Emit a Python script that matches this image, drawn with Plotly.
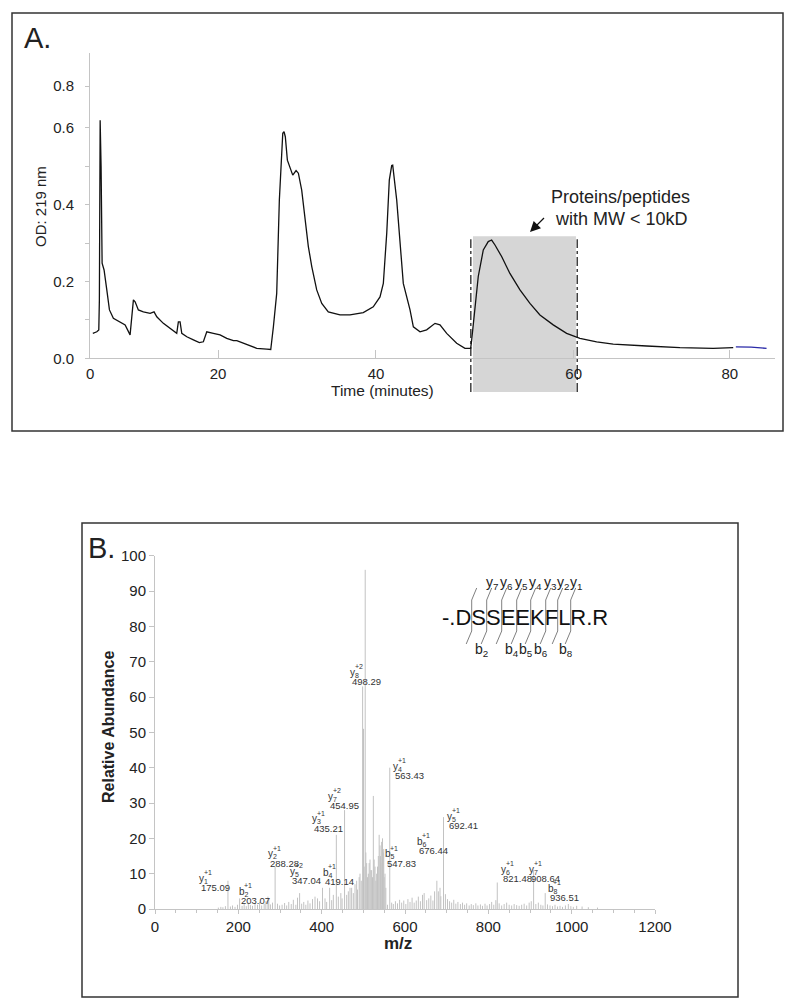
import plotly.graph_objects as go

W, H = 795, 1007
FONT = "Liberation Sans, Arial, sans-serif"

# ---------------- Panel A data: chromatogram ----------------
chrom_time = [5.32, 5.79, 6.02, 6.09, 6.18, 6.29, 6.41, 6.64, 6.96, 7.27, 7.73, 8.52, 9.11, 9.69, 9.89,
              10.08, 10.28, 10.66, 11.25, 12.04, 12.50, 12.82, 13.59, 14.38, 15.16, 15.35, 15.55, 15.75,
              16.34, 17.11, 17.81, 18.28, 18.68, 19.45, 20.24, 21.02, 21.80, 22.20, 23.37, 24.54, 25.71,
              26.18, 26.49, 26.88, 27.19, 27.39, 27.59, 27.74, 27.89, 28.13, 28.44, 28.76, 29.15, 29.42,
              29.81, 30.20, 30.59, 30.99, 31.57, 32.16, 32.93, 34.30, 35.47, 37.03, 38.20, 38.99, 39.38,
              39.78, 40.08, 40.36, 40.48, 40.95, 41.72, 42.51, 42.90, 43.68, 44.46, 45.44, 46.02, 46.81,
              47.98, 48.95, 49.62, 49.74, 50.12, 50.51, 51.10, 51.68, 52.08, 52.47, 53.25, 54.22, 55.40,
              56.57, 57.74, 59.30, 60.87, 62.43, 64.39, 66.33, 70.25, 74.15, 78.05, 80.40]
chrom_od = [0.065, 0.069, 0.074, 0.152, 0.620, 0.499, 0.248, 0.230, 0.178, 0.126, 0.104, 0.095, 0.087, 0.061, 0.100,
            0.152, 0.147, 0.126, 0.121, 0.117, 0.121, 0.108, 0.091, 0.078, 0.065, 0.095, 0.095, 0.065,
            0.056, 0.048, 0.041, 0.043, 0.069, 0.065, 0.061, 0.052, 0.046, 0.046, 0.035, 0.026, 0.024,
            0.023, 0.082, 0.169, 0.412, 0.508, 0.586, 0.590, 0.577, 0.516, 0.499, 0.477, 0.489, 0.482,
            0.438, 0.360, 0.291, 0.239, 0.178, 0.143, 0.121, 0.113, 0.113, 0.119, 0.134, 0.160, 0.195,
            0.326, 0.464, 0.502, 0.503, 0.412, 0.195, 0.126, 0.082, 0.069, 0.074, 0.091, 0.087, 0.065,
            0.039, 0.026, 0.026, 0.048, 0.126, 0.213, 0.282, 0.304, 0.308, 0.295, 0.265, 0.221, 0.178,
            0.143, 0.113, 0.087, 0.065, 0.052, 0.043, 0.037, 0.032, 0.028, 0.026, 0.028]
tail_time = [80.71, 82.5, 84.31]
tail_od = [0.030, 0.029, 0.026]

shade_start, shade_end = 49.89, 61.96      # minutes, fraction window
shade_top = 0.318
a_xtick_labels = ["0", "20", "40", "60", "80"]
a_xtick_at = [5.0, 20.0, 38.52, 61.7, 80.0]
a_ytick_at = [0, 0.1, 0.2, 0.3, 0.4, 0.5, 0.6, 0.709]
a_ytick_labels = ["0.0", "", "0.2", "", "0.4", "", "0.6", "0.8"]
A_XR = [4.99, 85.3]
A_YR = [0, 0.795]

# ---------------- Panel B data: MS/MS spectrum ----------------
label_mz = [175.09, 203.07, 288.28, 347.04, 419.14, 435.21, 454.95, 498.29, 547.83, 563.43, 676.44, 692.41,
            821.48, 908.64, 936.51]
label_int = [8, 3, 12, 4.5, 6, 21, 28, 63, 16, 40, 8, 26, 7.5, 11, 4.5]
label_ion = ["y", "b", "y", "y", "b", "y", "y", "y", "b", "y", "b", "y", "y", "y", "b"]
label_idx = ["1", "2", "2", "5", "4", "3", "7", "8", "5", "4", "6", "5", "6", "7", "8"]
label_chg = ["+1", "+1", "+1", "+2", "+1", "+1", "+2", "+2", "+1", "+1", "+1", "+1", "+1", "+1", "+1"]

other_mz = [504.5, 500.5, 524, 402, 538, 544, 516, 528, 508, 484, 468, 490, 512, 520, 532, 541, 550, 271, 273,
            390, 680, 684, 818,
            152, 158, 163, 169, 181, 186, 192, 198, 209, 214, 219, 224, 229, 234, 240, 246, 251, 256, 262,
            266, 277, 282, 294, 299, 305, 311, 316, 321, 327, 332, 338, 342, 352, 357, 362, 367, 372, 378,
            384, 395, 408, 412, 424, 428, 440, 446, 449, 460, 464, 472, 476, 480, 486, 492, 495, 502, 506,
            510, 514, 518, 522, 526, 530, 534, 536, 540, 542, 546, 549, 552, 554,
            558, 568, 572, 577, 582, 587, 592, 597, 602, 607, 612, 617, 622, 627, 632, 637, 642, 646, 652,
            657, 662, 667, 671, 686, 697, 702, 707, 712, 717, 722, 727, 733, 738, 743, 748, 754, 759, 764,
            770, 775, 781, 786, 792, 797, 803, 808, 813, 826, 832, 838, 844, 850, 856, 862, 868, 874, 880,
            886, 892, 898, 903, 914, 920, 926, 931, 942, 948, 954, 960, 966, 972, 978, 985, 992, 998, 1004,
            1012, 1025, 1040, 1062]
other_int = [96, 51, 32, 6, 21, 19, 14, 12, 13, 8, 6, 9, 10, 11, 10, 15, 9, 3.5, 2.5,
             3, 5, 6, 2.5,
             0.4, 0.6, 0.5, 0.8, 0.7, 1.0, 0.6, 1.2, 0.9, 1.4, 0.8, 1.8, 1.1, 0.9, 1.6, 1.2, 2.0, 1.0, 1.5,
             2.2, 1.3, 1.8, 1.5, 1.0, 1.2, 1.7, 1.0, 2.0, 1.4, 2.6, 1.2, 3.2, 1.5, 2.0, 1.2, 2.4, 1.6, 2.8,
             3.5, 2.2, 3.0, 2.0, 2.5, 4.0, 3.5, 4.5, 3.0, 4.0, 5.0, 6.0, 4.5, 7.0, 5.5, 10, 8, 12, 16,
             9, 13, 11, 9, 14, 8, 12, 15, 18, 13, 20, 17, 10, 6,
             1.2, 1.8, 1.4, 2.2, 1.6, 2.6, 1.8, 2.4, 1.4, 2.8, 2.0, 3.2, 1.8, 2.4, 3.5, 2.2, 4.0, 4.5, 2.5,
             3.0, 3.8, 2.4, 5.0, 3.6, 4.2, 2.8, 2.2, 1.8, 2.6, 1.5, 2.0, 1.4, 1.8, 1.2, 1.6, 1.0, 1.4, 1.1,
             1.6, 1.0, 1.3, 0.9, 1.5, 1.0, 1.4, 2.0, 1.2, 1.6, 1.0, 1.4, 1.8, 1.2, 1.0, 1.4, 1.1, 0.9, 1.2,
             1.5, 1.0, 1.8, 2.2, 1.4, 1.8, 1.2, 1.0, 1.3, 1.0, 0.8, 1.2, 0.7, 0.9, 0.6, 1.0, 1.4, 0.8, 0.6,
             0.9, 0.7, 0.5, 0.4]

# label placement (m/z, abundance) of each fragment's value text – layout only
label_pos_x = [106.3, 202.3, 271.9, 324.0, 402.5, 376.0, 416.0, 468.0, 552.0, 572.0, 628.0, 700.0, 830.4,
               898.3, 942.5]
label_pos_y = [6.0, 2.3, 12.9, 8.0, 7.7, 22.8, 29.2, 64.3, 12.9, 37.7, 16.5, 23.5, 8.5, 8.5, 3.2]

peptide = "-.DSSEEKFLR.R"
pep_y_ions = ["7", "6", "5", "4", "3", "2", "1"]
pep_b_ions = {2: "2", 4: "4", 5: "5", 6: "6", 8: "8"}

# ---------------- helpers ----------------
def PX(x):
    return x / W


def PY(y):
    return 1 - y / H


A_dom_x = [PX(90), PX(775)]
A_dom_y = [PY(358.3), PY(53)]
B_dom_x = [PX(155), PX(655)]
B_dom_y = [PY(909), PY(555.7)]
B_MZ_PER_PX = 1200 / 500
B_INT_PER_PX = 100 / (909 - 555.7)

fig = go.Figure()

fig.add_trace(go.Scatter(x=chrom_time, y=chrom_od, mode="lines", line=dict(color="#111111", width=1.3),
                         xaxis="x", yaxis="y", showlegend=False, hoverinfo="skip"))
fig.add_trace(go.Scatter(x=tail_time, y=tail_od, mode="lines", line=dict(color="#2a2aa8", width=1.3),
                         xaxis="x", yaxis="y", showlegend=False, hoverinfo="skip"))

sx, sy = [], []
for m, v in list(zip(other_mz, other_int)) + list(zip(label_mz, label_int)):
    sx += [m, m, None]
    sy += [0, v, None]
fig.add_trace(go.Scatter(x=sx, y=sy, mode="lines", line=dict(color="#c2c2c2", width=1),
                         xaxis="x2", yaxis="y2", showlegend=False, hoverinfo="skip"))

axis_line = "#c4c4c4"
tickfont = dict(family=FONT, size=15, color="#222222")

fig.update_layout(
    template="none",
    width=W, height=H, margin=dict(l=0, r=0, t=0, b=0, pad=0), autosize=False,
    paper_bgcolor="white", plot_bgcolor="white",
    font=dict(family=FONT, color="#222222"),
    xaxis=dict(domain=A_dom_x, range=A_XR, anchor="y", showgrid=False, zeroline=False, automargin=False,
               showline=True, linecolor=axis_line, linewidth=1,
               tickmode="array", tickvals=a_xtick_at, ticktext=a_xtick_labels,
               ticks="inside", ticklen=8, tickcolor=axis_line, tickfont=tickfont, ticklabelstandoff=2),
    yaxis=dict(domain=A_dom_y, range=A_YR, anchor="x", showgrid=False, zeroline=False, automargin=False,
               showline=True, linecolor=axis_line, linewidth=1,
               tickmode="array", tickvals=a_ytick_at, ticktext=a_ytick_labels,
               ticks="outside", ticklen=4, tickcolor=axis_line, tickfont=tickfont, ticklabelstandoff=8),
    xaxis2=dict(domain=B_dom_x, range=[0, 1200], anchor="y2", showgrid=False, zeroline=False, automargin=False,
                showline=True, linecolor=axis_line, linewidth=1, dtick=200,
                ticks="outside", ticklen=4, tickcolor=axis_line, tickfont=tickfont,
                minor=dict(dtick=50, ticks="outside", ticklen=3, tickcolor=axis_line)),
    yaxis2=dict(domain=B_dom_y, range=[0, 100], anchor="x2", showgrid=False, zeroline=False, automargin=False,
                showline=True, linecolor=axis_line, linewidth=1, dtick=10,
                ticks="outside", ticklen=5, tickcolor=axis_line, tickfont=tickfont),
)

shapes = []
# panel borders
for (x0, y0, x1, y1) in [(12, 13, 783, 431), (82, 523, 738, 997)]:
    shapes.append(dict(type="rect", xref="paper", yref="paper", x0=PX(x0), x1=PX(x1), y0=PY(y0), y1=PY(y1),
                       line=dict(color="#333333", width=1.5), fillcolor="rgba(0,0,0,0)"))


def xdomA(t):
    return (t - A_XR[0]) / (A_XR[1] - A_XR[0])


def ydomA(v):
    return (v - A_YR[0]) / (A_YR[1] - A_YR[0])


bottom_dom = (358.3 - 392) / (358.3 - 53)
shapes.append(dict(type="rect", xref="x domain", yref="y domain", x0=xdomA(shade_start), x1=xdomA(shade_end),
                   y0=bottom_dom, y1=ydomA(shade_top), fillcolor="#d6d6d6", line=dict(width=0), layer="below"))
for t in [shade_start - 0.25, shade_end + 0.15]:
    shapes.append(dict(type="line", xref="x domain", yref="y domain", x0=xdomA(t), x1=xdomA(t),
                       y0=bottom_dom, y1=ydomA(shade_top) - 0.01,
                       line=dict(color="#111111", width=1.2, dash="dashdot")))

# peptide fragmentation markers
marker_px = [471.7, 486.7, 501.7, 516.7, 530.7, 545.7, 557.7, 570.7]
for mx in marker_px:
    pts = [(mx + 5, 588), (mx, 600), (mx, 631), (mx - 5.5, 644)]
    path = "M " + " L ".join(f"{PX(a):.5f},{PY(b):.5f}" for a, b in pts)
    shapes.append(dict(type="path", xref="paper", yref="paper", path=path,
                       line=dict(color="#808080", width=1)))
fig.update_layout(shapes=shapes)

ann = []


def txt(x, y, s, size, bold=False, angle=0, xanchor="center", yanchor="middle", xref="paper", yref="paper",
        color="#222222"):
    if bold:
        s = f"<b>{s}</b>"
    ann.append(dict(x=x, y=y, xref=xref, yref=yref, text=s, showarrow=False, textangle=angle,
                    xanchor=xanchor, yanchor=yanchor, font=dict(family=FONT, size=size, color=color)))


txt(PX(22), PY(38), "A.", 29, xanchor="left")
txt(PX(41), PY(207), "OD: 219 nm", 15, angle=-90)
txt(PX(382), PY(390), "Time (minutes)", 15.5)
txt(PX(620), PY(197), "Proteins/peptides", 18)
txt(PX(621), PY(219), "with MW &lt; 10kD", 18)
ann.append(dict(x=PX(530), y=PY(232), xref="paper", yref="paper", text=" ", showarrow=True,
                arrowhead=2, arrowsize=1.6, arrowwidth=1.3, arrowcolor="#111111", ax=17, ay=-17))

txt(PX(86), PY(548), "B.", 29, xanchor="left")
txt(PX(108), PY(727), "Relative Abundance", 16, bold=True, angle=-90)
txt(PX(398), PY(943), "m/z", 17, bold=True)

# peptide sequence and ion labels
txt(PX(524.5), PY(617), peptide, 22, color="#111111")
for i, lab in enumerate(pep_y_ions):
    mx = marker_px[i + 1]
    txt(PX(mx + 5), PY(583), f"y<sub>{lab}</sub>", 14)
for k, lab in pep_b_ions.items():
    mx = marker_px[k - 1]
    txt(PX(mx - 5), PY(650), f"b<sub>{lab}</sub>", 14)

# spectrum peak labels: value, ion letter with subscript, and charge stacked above the subscript
for ion, idx, chg, mz, lx, ly in zip(label_ion, label_idx, label_chg, label_mz, label_pos_x, label_pos_y):
    txt(lx, ly, f"{mz:.2f}", 9.5, xanchor="left", xref="x2", yref="y2", color="#333333")
    ion_x = lx - 2 * B_MZ_PER_PX
    txt(ion_x, ly + 9 * B_INT_PER_PX, f"{ion}<sub>{idx}</sub>", 10, xanchor="left", xref="x2", yref="y2",
        color="#333333")
    txt(ion_x + 5 * B_MZ_PER_PX, ly + 15 * B_INT_PER_PX, chg, 7, xanchor="left", xref="x2", yref="y2",
        color="#333333")

fig.update_layout(annotations=ann)
fig.write_html("out.html", config={"displayModeBar": False},
               post_script="document.body.style.margin='0';document.body.style.overflow='hidden';"
                           "document.documentElement.style.overflow='hidden';")
